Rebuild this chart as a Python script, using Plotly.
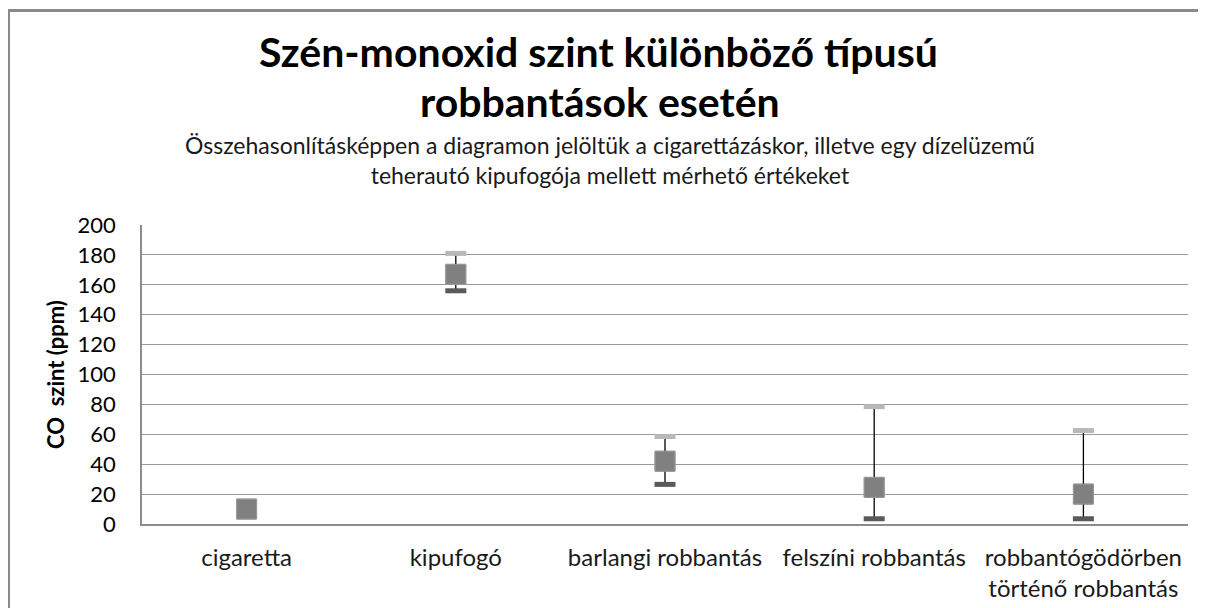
import plotly.graph_objects as go

categories = ["cigaretta", "kipufogó", "barlangi robbantás", "felszíni robbantás",
              "robbantógödörben<br>történő robbantás"]
mid_values = [10, 167, 42, 24.5, 20]
high_values = [None, 181, 58.5, 78.5, 62.5]
low_values = [None, 156, 26.5, 3.5, 3.5]
y_ticks = [0, 20, 40, 60, 80, 100, 120, 140, 160, 180, 200]

FONT = "Lato"
OFF = 8  # page body margin

fig = go.Figure()

# square markers (first so category order is kept)
fig.add_trace(go.Scatter(x=categories, y=mid_values, mode="markers",
                         marker=dict(symbol="square", size=20, color="#808080",
                                     line=dict(color="#9A9A9A", width=1)),
                         showlegend=False))

# vertical high-low lines
lx, ly = [], []
for c, h, l in zip(categories, high_values, low_values):
    if h is None or l is None:
        continue
    lx += [c, c, None]
    ly += [l, h, None]
fig.add_trace(go.Scatter(x=lx, y=ly, mode="lines", line=dict(color="#000000", width=1.3),
                         hoverinfo="skip", showlegend=False))
# high caps
fig.add_trace(go.Scatter(x=categories, y=high_values, mode="markers",
                         marker=dict(symbol="line-ew", size=15, line=dict(color="#B8B8B8", width=5)),
                         showlegend=False))
# low caps
fig.add_trace(go.Scatter(x=categories, y=low_values, mode="markers",
                         marker=dict(symbol="line-ew", size=15, line=dict(color="#5A5A5A", width=5)),
                         showlegend=False))
# squares again on top of the lines
fig.add_trace(go.Scatter(x=categories, y=mid_values, mode="markers",
                         marker=dict(symbol="square", size=20, color="#808080",
                                     line=dict(color="#9A9A9A", width=1)),
                         showlegend=False, hoverinfo="skip"))

W, H = 1198, 600
L = 142 - OFF
T = 225 - OFF
R = W - (1188 - OFF)
B = H - (524 - OFF)
pw, ph = W - L - R, H - T - B

def px(x):  # page x -> paper
    return (x - OFF - L) / pw

def py(y):  # page y -> paper
    return (H - B - (y - OFF)) / ph

def ann(text, x, y, size, bold=False, color="#000000", angle=0):
    return dict(text=f"<b>{text}</b>" if bold else text, xref="paper", yref="paper",
                x=px(x), y=py(y), xanchor="center", yanchor="middle", showarrow=False,
                textangle=angle, font=dict(size=size, family=FONT, color=color))

fig.update_layout(
    width=W, height=H,
    margin=dict(l=L, r=R, t=T, b=B),
    paper_bgcolor="white", plot_bgcolor="white",
    font=dict(family=FONT, color="#000000"),
    xaxis=dict(type="category", categoryorder="array", categoryarray=categories,
               showgrid=False, showline=True, linecolor="#8C8C8C", linewidth=1.5,
               ticks="", ticklabelstandoff=11, automargin=False,
               tickfont=dict(size=24, color="#1A1A1A"), range=[-0.5, 4.5]),
    yaxis=dict(range=[0, 200], tickvals=y_ticks, showgrid=True, gridcolor="#9A9A9A", gridwidth=1.3,
               showline=True, linecolor="#8C8C8C", linewidth=1.5, ticks="", zeroline=False,
               ticklabelstandoff=20, automargin=False,
               tickfont=dict(size=22, color="#000000")),
    shapes=[dict(type="rect", xref="paper", yref="paper", x0=px(8.5), x1=px(1230),
                 y0=py(660), y1=py(10.5), line=dict(color="#8A8A8A", width=3), layer="below")],
    annotations=[
        ann("Szén-monoxid szint különböző típusú", 598, 52, 41, bold=True),
        ann("robbantások esetén", 600, 101, 41, bold=True),
        ann("Összehasonlításképpen a diagramon jelöltük a cigarettázáskor, illetve egy dízelüzemű"
            "<br>teherautó kipufogója mellett mérhető értékeket",
            610, 160, 23, color="#1A1A1A"),
        ann("CO  szint (ppm)", 55, 375, 22, bold=True, angle=-90),
    ],
)

fig.write_html("out.html")
